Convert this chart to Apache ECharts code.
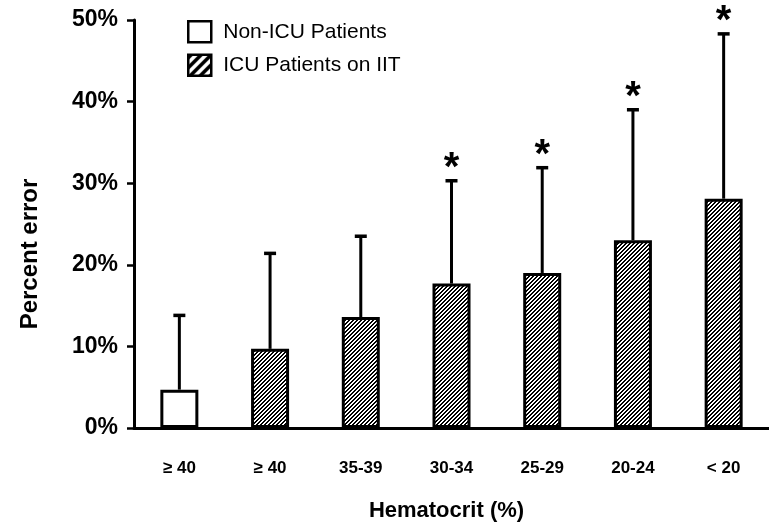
<!DOCTYPE html>
<html>
<head>
<meta charset="utf-8">
<script src="https://cdn.jsdelivr.net/npm/echarts@6/dist/echarts.min.js"></script>
<style>
html,body{margin:0;padding:0;background:#fff;}
#chart{width:769px;height:529px;}
</style>
</head>
<body>
<div id="chart"></div>
<script>
var categories = ['≥ 40', '≥ 40', '35-39', '30-34', '25-29', '20-24', '< 20'];
var nonIcuValues = [4.7, '-', '-', '-', '-', '-', '-'];
var icuValues = ['-', 9.7, 13.6, 17.7, 19.0, 23.0, 28.1];
var errorUpper = [13.8, 21.4, 23.5, 30.3, 31.9, 39.0, 48.3];
var significant = [false, false, false, true, true, true, true];
var yTicks = [0, 10, 20, 30, 40, 50];

function makePattern(size, on) {
  var c = document.createElement('canvas');
  c.width = size; c.height = size;
  var ctx = c.getContext('2d');
  ctx.fillStyle = '#fff';
  ctx.fillRect(0, 0, size, size);
  ctx.fillStyle = '#000';
  for (var x = 0; x < size; x++) {
    for (var y = 0; y < size; y++) {
      if ((x + y) % size < on) ctx.fillRect(x, y, 1, 1);
    }
  }
  return {image: c, repeat: 'repeat'};
}
var finePattern = makePattern(4, 2);
var coarsePattern = makePattern(10, 5);

var FONT = "'Liberation Sans', Arial, sans-serif";

var errData = categories.map(function (c, i) {
  var base = nonIcuValues[i] !== '-' ? nonIcuValues[i] : icuValues[i];
  return [i, base, errorUpper[i], significant[i] ? 1 : 0];
});

var chart = echarts.init(document.getElementById('chart'), null, {renderer: 'canvas'});
chart.setOption({
  animation: false,
  backgroundColor: '#fff',
  grid: {left: 134, top: 20, bottom: 101, width: 644, containLabel: false},
  legend: {
    orient: 'vertical',
    left: 182,
    top: 15,
    itemWidth: 23,
    itemHeight: 21,
    itemGap: 10,
    icon: 'rect',
    itemStyle: {borderColor: '#000', borderWidth: 2.5},
    textStyle: {fontFamily: FONT, fontSize: 21, color: '#000', padding: [0, 0, 0, 7]},
    data: [
      {name: 'Non-ICU Patients', itemStyle: {color: '#fff'}},
      {name: 'ICU Patients on IIT', itemStyle: {color: coarsePattern}}
    ]
  },
  xAxis: {
    type: 'category',
    data: categories,
    name: 'Hematocrit (%)',
    nameLocation: 'middle',
    nameGap: 72,
    nameTextStyle: {fontFamily: FONT, fontSize: 22, fontWeight: 'bold', color: '#000', padding: [0, 10, 0, 0]},
    axisLine: {lineStyle: {color: '#000', width: 3}},
    axisTick: {show: false},
    axisLabel: {margin: 32, fontFamily: FONT, fontSize: 17, fontWeight: 'bold', color: '#000', interval: 0},
    splitLine: {show: false}
  },
  yAxis: {
    type: 'value',
    min: 0,
    max: 50,
    interval: 10,
    name: 'Percent error',
    nameLocation: 'middle',
    nameGap: 92,
    nameTextStyle: {fontFamily: FONT, fontSize: 24, fontWeight: 'bold', color: '#000', padding: [0, 60, 0, 0]},
    axisLine: {show: true, lineStyle: {color: '#000', width: 3}},
    axisTick: {show: true, length: 7, lineStyle: {color: '#000', width: 2.5}},
    axisLabel: {
      margin: 16, fontFamily: FONT, fontSize: 23, fontWeight: 'bold', color: '#000',
      formatter: function (v) { return yTicks.indexOf(v) >= 0 ? v + '%' : ''; }
    },
    splitLine: {show: false}
  },
  series: [
    {
      name: 'Non-ICU Patients',
      type: 'bar',
      data: nonIcuValues,
      barWidth: 38,
      barGap: '-100%',
      itemStyle: {color: '#fff', borderColor: '#000', borderWidth: 3},
      z: 2
    },
    {
      name: 'ICU Patients on IIT',
      type: 'bar',
      data: icuValues,
      barWidth: 38,
      barGap: '-100%',
      itemStyle: {color: finePattern, borderColor: '#000', borderWidth: 3},
      z: 2
    },
    {
      name: 'err',
      type: 'custom',
      data: errData,
      z: 3,
      renderItem: function (params, api) {
        var x = api.value(0);
        var lo = api.coord([x, api.value(1)]);
        var hi = api.coord([x, api.value(2)]);
        var children = [
          {type: 'line', shape: {x1: lo[0], y1: lo[1], x2: hi[0], y2: hi[1]}, style: {stroke: '#000', lineWidth: 3}},
          {type: 'line', shape: {x1: hi[0] - 6, y1: hi[1], x2: hi[0] + 6, y2: hi[1]}, style: {stroke: '#000', lineWidth: 3.5}}
        ];
        if (api.value(3) === 1) {
          children.push({
            type: 'text',
            style: {
              text: '*', x: hi[0], y: hi[1] - 12,
              fill: '#000', font: 'bold 40px ' + FONT,
              textAlign: 'center', textVerticalAlign: 'middle'
            }
          });
        }
        return {type: 'group', children: children};
      }
    }
  ]
});
</script>
</body>
</html>
